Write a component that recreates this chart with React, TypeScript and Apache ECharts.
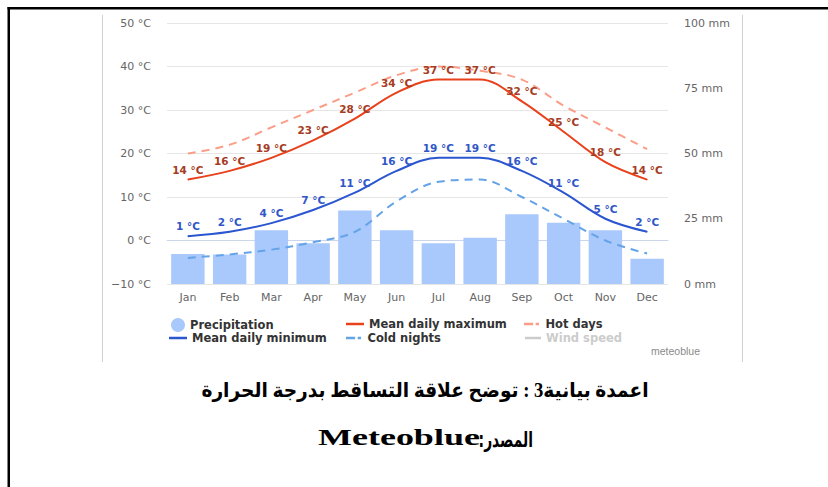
import React, { useEffect, useRef } from 'react';
import * as echarts from 'echarts';

const months = ['Jan', 'Feb', 'Mar', 'Apr', 'May', 'Jun', 'Jul', 'Aug', 'Sep', 'Oct', 'Nov', 'Dec'];
const precipitation = [11.5, 11.3, 20.6, 15.6, 28.2, 20.6, 15.6, 17.7, 26.7, 23.5, 20.6, 9.7];
const meanMax = [14, 16, 19, 23, 28, 34, 37, 37, 32, 25, 18, 14];
const hotDays = [20, 22, 26, 30, 34, 38, 40, 39, 37, 31, 26, 21];
const meanMin = [1, 2, 4, 7, 11, 16, 19, 19, 16, 11, 5, 2];
const coldNights = [-4, -3.2, -2.1, -0.4, 2, 9, 13.5, 14, 10, 5, 0, -3];
const windSpeed: number[] = [];

const tempUnit = '°C';
const precipUnit = 'mm';
const captionTitle = 'اعمدة بيانية3 : توضح علاقة التساقط بدرجة الحرارة';
const captionSourceLabel = 'المصدر:';
const captionSourceName = 'Meteoblue';
const brand = 'meteoblue';

const FONT = '"DejaVu Sans", Verdana, sans-serif';

export default function App() {
  const ref = useRef<HTMLDivElement>(null);

  useEffect(() => {
    const chart = echarts.init(ref.current!, null, { renderer: 'svg' });
    const fmtTemp = (v: number) => (v < 0 ? '\u2212' + Math.abs(v) : String(v)) + ' ' + tempUnit;

    const legendBase: any = {
      orient: 'horizontal',
      padding: 0,
      itemGap: 0,
      textStyle: { fontFamily: FONT, fontSize: 11.5, fontWeight: 'bold', color: '#333' },
      itemStyle: { borderWidth: 0 },
      inactiveColor: '#cccccc',
      selected: { 'Wind speed': false },
    };
    const dashIcon = 'path://M0,0H11V3H0Z M14,0H18V3H14Z';

    const tempLine = (name: string, data: number[], color: string, labelColor: string) => ({
      name,
      type: 'line',
      data,
      smooth: 0.35,
      symbol: 'circle',
      symbolSize: 1,
      showSymbol: true,
      itemStyle: { color },
      lineStyle: { color, width: 2 },
      label: {
        show: true,
        position: 'top',
        distance: 4,
        color: labelColor,
        fontFamily: FONT,
        fontSize: 10.5,
        fontWeight: 'bold',
        formatter: (p: any) => p.value + ' ' + tempUnit,
      },
      z: 4,
    });

    const dashedLine = (name: string, data: number[], color: string) => ({
      name,
      type: 'line',
      data,
      smooth: 0.35,
      showSymbol: false,
      symbol: 'none',
      itemStyle: { color },
      lineStyle: { color, width: 2, type: [8, 6] },
      z: 3,
    });

    chart.setOption({
      animation: false,
      backgroundColor: '#ffffff',
      grid: { left: 167, top: 23, width: 501, height: 261, containLabel: false },
      legend: [
        { ...legendBase, data: ['Precipitation'], left: 171, top: 318, icon: 'circle', itemWidth: 14, itemHeight: 14 },
        { ...legendBase, data: ['Mean daily maximum'], left: 346, top: 318, icon: 'rect', itemWidth: 18, itemHeight: 2.5 },
        { ...legendBase, data: ['Hot days'], left: 524, top: 318, icon: dashIcon, itemWidth: 18, itemHeight: 2.5 },
        { ...legendBase, data: ['Mean daily minimum'], left: 169, top: 332, icon: 'rect', itemWidth: 18, itemHeight: 2.5 },
        { ...legendBase, data: ['Cold nights'], left: 346, top: 332, icon: dashIcon, itemWidth: 18, itemHeight: 2.5 },
        { ...legendBase, data: ['Wind speed'], left: 525, top: 332, icon: 'rect', itemWidth: 16, itemHeight: 2.5 },
      ],
      xAxis: {
        type: 'category',
        data: months,
        boundaryGap: true,
        axisLine: { show: true, lineStyle: { color: '#ccd6eb', width: 1 } },
        axisTick: { show: false },
        axisLabel: { color: '#666', fontFamily: FONT, fontSize: 11, margin: 8 },
      },
      yAxis: [
        {
          type: 'value',
          min: -10,
          max: 50,
          interval: 10,
          axisLine: { show: false },
          axisTick: { show: false },
          splitLine: { show: true, lineStyle: { color: '#e6e6e6', width: 1 } },
          axisLabel: { color: '#666', fontFamily: FONT, fontSize: 11, margin: 16, formatter: fmtTemp },
        },
        {
          type: 'value',
          min: 0,
          max: 100,
          interval: 25,
          position: 'right',
          axisLine: { show: false },
          axisTick: { show: false },
          splitLine: { show: false },
          axisLabel: { color: '#666', fontFamily: FONT, fontSize: 11, margin: 16, formatter: (v: number) => v + ' ' + precipUnit },
        },
      ],
      series: [
        {
          name: 'Precipitation',
          type: 'bar',
          yAxisIndex: 1,
          data: precipitation,
          barWidth: '80%',
          itemStyle: { color: '#a9c8fb' },
          z: 1,
        },
        dashedLine('Hot days', hotDays, '#fa9e88'),
        dashedLine('Cold nights', coldNights, '#65a3e8'),
        tempLine('Mean daily maximum', meanMax, '#e8411c', '#a63c1f'),
        tempLine('Mean daily minimum', meanMin, '#2b56cf', '#3056c8'),
        {
          name: 'Wind speed',
          type: 'line',
          data: windSpeed,
          showSymbol: false,
          itemStyle: { color: '#bbbbbb' },
          lineStyle: { color: '#bbbbbb', width: 2 },
        },
      ],
      graphic: [
        { type: 'rect', shape: { x: 7.5, y: 7, width: 821, height: 2.5 }, style: { fill: '#000' }, silent: true },
        { type: 'rect', shape: { x: 7.5, y: 7, width: 2.5, height: 480 }, style: { fill: '#000' }, silent: true },
        { type: 'line', shape: { x1: 102.5, y1: 15, x2: 102.5, y2: 362 }, style: { stroke: '#d0d0d0', lineWidth: 1 }, silent: true },
        { type: 'line', shape: { x1: 742.5, y1: 15, x2: 742.5, y2: 362 }, style: { stroke: '#d0d0d0', lineWidth: 1 }, silent: true },
        {
          type: 'text',
          x: 700,
          y: 351,
          style: {
            text: brand,
            fontFamily: '"Liberation Sans", Arial, sans-serif',
            fontSize: 10.5,
            fill: '#8a8a8a',
            align: 'right',
            verticalAlign: 'middle',
            textAlign: 'right',
            textVerticalAlign: 'middle',
          },
        },
        {
          type: 'text',
          x: 425,
          y: 390,
          scaleX: 0.93,
          style: {
            text: '\u202B' + captionTitle + '\u202C',
            fontFamily: '"Liberation Serif", "DejaVu Sans", serif',
            fontSize: 20,
            fontWeight: 'bold',
            fill: '#000',
            align: 'center',
            verticalAlign: 'middle',
            textAlign: 'center',
            textVerticalAlign: 'middle',
          },
        },
        {
          type: 'text',
          x: 318,
          y: 437,
          scaleX: 1.5,
          style: {
            text: captionSourceName,
            fontFamily: '"Liberation Serif", "Times New Roman", serif',
            fontSize: 24,
            fontWeight: 'bold',
            fill: '#000',
            align: 'left',
            verticalAlign: 'middle',
            textAlign: 'left',
            textVerticalAlign: 'middle',
          },
        },
        {
          type: 'text',
          x: 533,
          y: 439,
          scaleX: 0.66,
          style: {
            text: '\u202B' + captionSourceLabel + '\u202C',
            fontFamily: '"DejaVu Sans", serif',
            fontSize: 21,
            fontWeight: 'bold',
            fill: '#000',
            align: 'right',
            verticalAlign: 'middle',
            textAlign: 'right',
            textVerticalAlign: 'middle',
          },
        },
      ],
    });
    return () => chart.dispose();
  }, []);

  return (
    <div
      ref={ref}
      style={{ position: 'absolute', left: 0, top: 0, width: 828, height: 487, background: '#fff' }}
    />
  );
}
